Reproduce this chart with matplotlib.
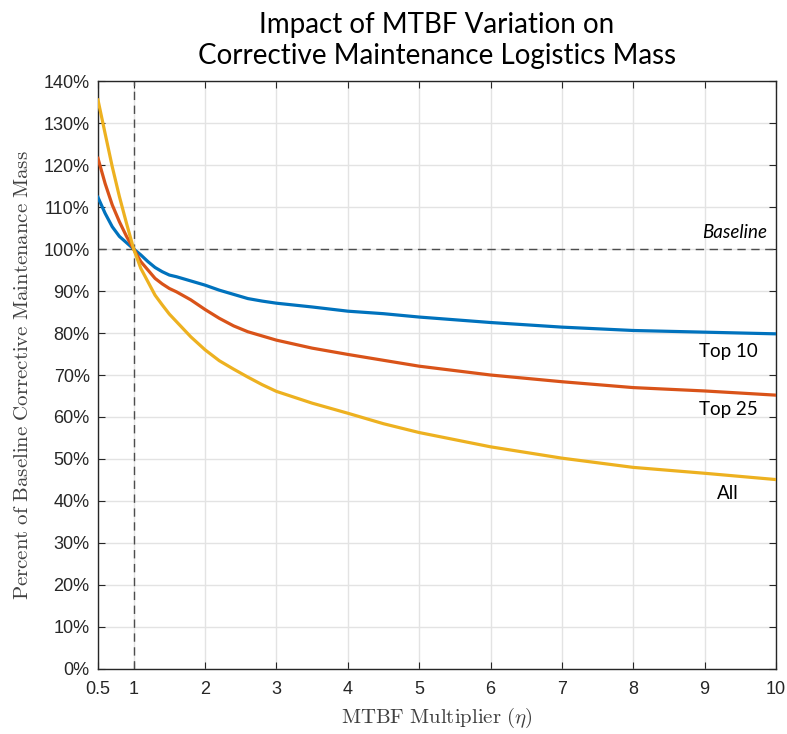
import numpy as np
import matplotlib
matplotlib.use('Agg')
import matplotlib.pyplot as plt
from matplotlib.ticker import PercentFormatter

plt.rcParams['mathtext.fontset'] = 'cm'

# MTBF multiplier values and the three curves (percent of baseline)
eta = [0.5, 0.6, 0.7, 0.8, 0.9, 1, 1.1, 1.2, 1.3, 1.4, 1.5, 1.6, 1.8, 2, 2.2, 2.4,
       2.6, 2.8, 3, 3.5, 4, 4.5, 5, 6, 7, 8, 9, 10]
top10 = [112.3, 108.5, 105.3, 103.0, 101.5, 100, 98.6, 97.0, 95.6, 94.6, 93.8, 93.4,
         92.4, 91.4, 90.2, 89.2, 88.2, 87.6, 87.1, 86.2, 85.2, 84.6, 83.8, 82.5,
         81.4, 80.6, 80.2, 79.8]
top25 = [121.6, 115.6, 110.5, 106.5, 103.0, 100, 97.0, 95.0, 93.0, 91.7, 90.6, 89.8,
         87.9, 85.6, 83.5, 81.7, 80.3, 79.3, 78.3, 76.4, 74.9, 73.5, 72.1, 70.0,
         68.4, 67.0, 66.2, 65.2]
allp = [135.5, 127.5, 119.6, 112.5, 106.1, 100, 95.4, 92.2, 89.0, 86.7, 84.5, 82.7,
        79.1, 76.0, 73.4, 71.4, 69.5, 67.7, 66.1, 63.3, 60.9, 58.4, 56.3, 52.9,
        50.2, 48.0, 46.6, 45.1]

xticks = [0.5, 1, 2, 3, 4, 5, 6, 7, 8, 9, 10]
xticklabels = ['0.5', '1', '2', '3', '4', '5', '6', '7', '8', '9', '10']

fig = plt.figure(figsize=(7.87, 7.34), dpi=100)
ax = fig.add_axes([0.1245, 0.0886, 0.8615, 0.801])
ax.set_axisbelow(True)

# reference lines
ax.axhline(100, color='#4d4d4d', lw=1.0, ls=(0, (6, 4)), zorder=2)
ax.axvline(1, color='#4d4d4d', lw=1.0, ls=(0, (6, 4)), zorder=2)

ax.plot(eta, top10, color='#0072BD', lw=2.3, zorder=3)
ax.plot(eta, top25, color='#D95319', lw=2.3, zorder=3)
ax.plot(eta, allp, color='#EDB120', lw=2.3, zorder=3)

ax.set_xlim(0.5, 10)
ax.set_ylim(0, 140)
ax.set_xticks(xticks)
ax.set_xticklabels(xticklabels)
ax.set_yticks(np.arange(0, 141, 10))
ax.yaxis.set_major_formatter(PercentFormatter(decimals=0))
ax.grid(True, color='#e3e3e3', lw=1.0)
ax.tick_params(direction='in', top=True, right=True, length=5, width=0.8,
               labelsize=13, colors='#262626')
ax.tick_params(axis='x', pad=9)
ax.tick_params(axis='y', pad=6)
for lab in ax.get_xticklabels() + ax.get_yticklabels():
    lab.set_family('Liberation Sans')
for s in ax.spines.values():
    s.set_color('#262626')
    s.set_linewidth(1.0)

ax.set_xlabel(r'$\mathrm{MTBF\ Multiplier\ }(\eta)$', fontsize=15, color='#404040', labelpad=5)
ax.set_ylabel(r'$\mathrm{Percent\ of\ Baseline\ Corrective\ Maintenance\ Mass}$',
              fontsize=15, color='#404040', labelpad=8)

ax.set_title('Impact of MTBF Variation on\nCorrective Maintenance Logistics Mass',
             fontsize=20, family='Lato', pad=12, linespacing=1.25)

ax.text(9.88, 104, 'Baseline', ha='right', va='center', fontsize=13.5,
        family='Lato', style='italic')
ax.text(9.33, 75.5, 'Top 10', ha='center', va='center', fontsize=13.5, family='Lato')
ax.text(9.33, 61.7, 'Top 25', ha='center', va='center', fontsize=13.5, family='Lato')
ax.text(9.33, 41.9, 'All', ha='center', va='center', fontsize=13.5, family='Lato')

fig.savefig('out.png', dpi=100)
